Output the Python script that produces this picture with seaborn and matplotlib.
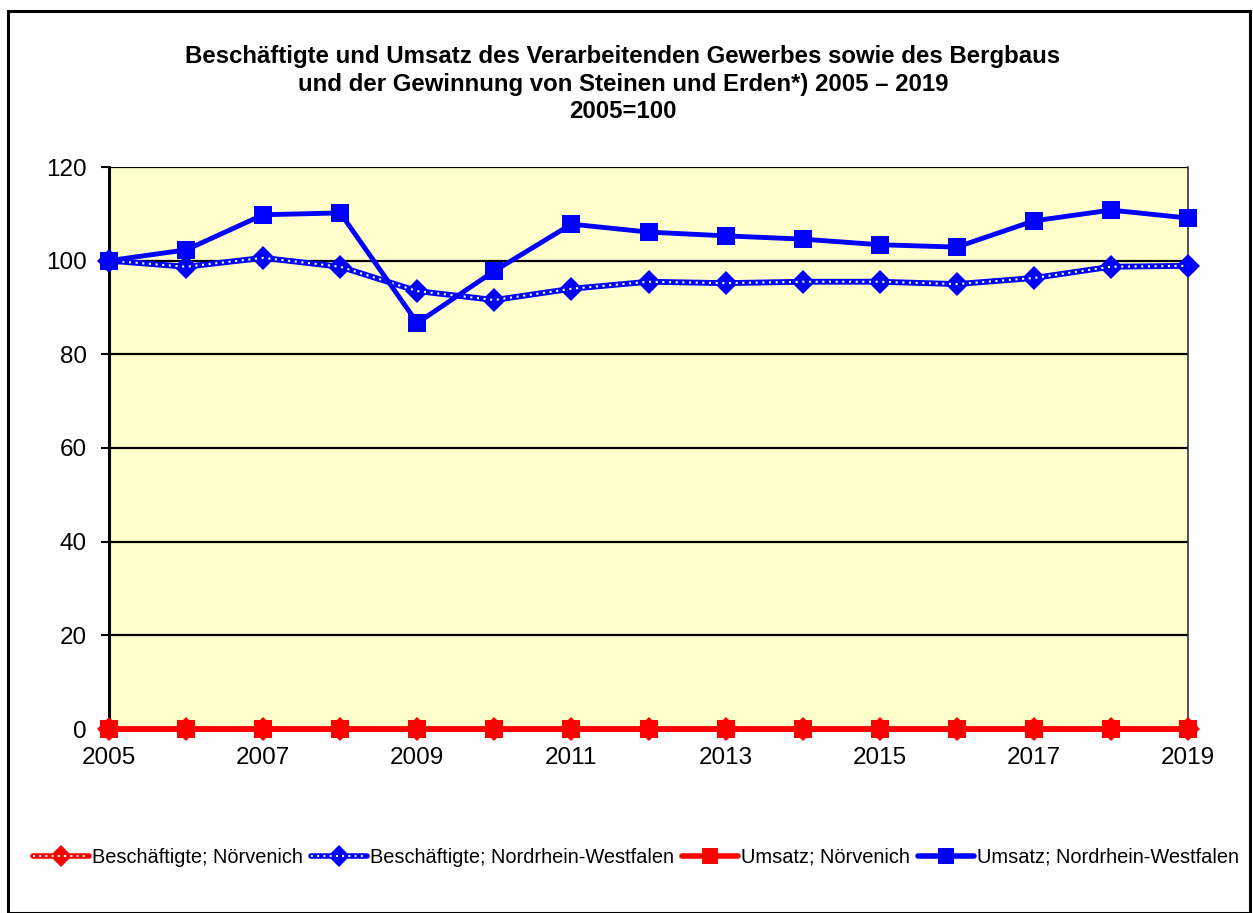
import matplotlib
matplotlib.use("Agg")
import matplotlib.pyplot as plt
import seaborn as sns
import pandas as pd
from matplotlib.lines import Line2D
from matplotlib.legend_handler import HandlerTuple
from matplotlib.patches import Rectangle

years = list(range(2005, 2020))
besch_noervenich = [0] * 15
besch_nrw = [100, 98.7, 100.6, 98.7, 93.5, 91.6, 94.0, 95.5, 95.2, 95.5, 95.5, 95.0, 96.3, 98.7, 98.9]
umsatz_noervenich = [0] * 15
umsatz_nrw = [100, 102.3, 109.8, 110.2, 86.7, 97.8, 107.8, 106.1, 105.3, 104.6, 103.4, 102.9, 108.5, 110.8, 109.1]

labels = ["Beschäftigte; Nörvenich", "Beschäftigte; Nordrhein-Westfalen",
          "Umsatz; Nörvenich", "Umsatz; Nordrhein-Westfalen"]
title_lines = ["Beschäftigte und Umsatz des Verarbeitenden Gewerbes sowie des Bergbaus",
               "und der Gewinnung von Steinen und Erden*) 2005 – 2019",
               "2005=100"]
xticks = [2005, 2007, 2009, 2011, 2013, 2015, 2017, 2019]
yticks = [0, 20, 40, 60, 80, 100, 120]

sns.set_style("white")
plt.rcParams['font.family'] = ['Liberation Sans', 'DejaVu Sans']
plt.rcParams['text.color'] = 'black'
plt.rcParams['xtick.color'] = 'black'
plt.rcParams['ytick.color'] = 'black'
plt.rcParams['xtick.labelcolor'] = 'black'
plt.rcParams['ytick.labelcolor'] = 'black'

df = pd.DataFrame({"Jahr": years, "bn": besch_noervenich, "bw": besch_nrw,
                   "un": umsatz_noervenich, "uw": umsatz_nrw})

fig = plt.figure(figsize=(12.53, 9.13), dpi=100)
ax = fig.add_axes([109/1253, 1-729/913, (1188-109)/1253, (729-167)/913])
ax.set_facecolor("#FFFFCC")

for y in yticks[1:]:
    ax.axhline(y, color="black", lw=1.6, zorder=1)

RED = "#FF0000"
BLUE = "#0000FF"

# Beschäftigte Nörvenich
sns.lineplot(data=df, x="Jahr", y="bn", ax=ax, color=RED, lw=4.2, marker="D",
             markersize=12, markeredgewidth=0, clip_on=False, zorder=3)
sns.lineplot(data=df, x="Jahr", y="bn", ax=ax, color="white", lw=1.5, linestyle=(0, (1, 2.2)),
             clip_on=False, zorder=3.1)
# Beschäftigte NRW
sns.lineplot(data=df, x="Jahr", y="bw", ax=ax, color=BLUE, lw=4.2, marker="D",
             markersize=12, markeredgewidth=0, clip_on=False, zorder=3)
sns.lineplot(data=df, x="Jahr", y="bw", ax=ax, color="white", lw=1.5, linestyle=(0, (1, 2.2)),
             clip_on=False, zorder=3.1)
# Umsatz Nörvenich
sns.lineplot(data=df, x="Jahr", y="un", ax=ax, color=RED, lw=3.5, marker="s",
             markersize=12.5, markeredgewidth=0, clip_on=False, zorder=4)
# Umsatz NRW
sns.lineplot(data=df, x="Jahr", y="uw", ax=ax, color=BLUE, lw=3.5, marker="s",
             markersize=13, markeredgewidth=0, clip_on=False, zorder=4)

ax.set_xlim(2005, 2019)
ax.set_ylim(0, 120)
ax.set_xticks(xticks)
ax.set_xticklabels([str(x) for x in xticks], fontsize=17.5)
ax.set_yticks(yticks)
ax.set_yticklabels([str(y) for y in yticks], fontsize=17.5)
ax.set_xlabel("")
ax.set_ylabel("")
ax.tick_params(axis="x", length=0, pad=13)
ax.tick_params(axis="y", length=6, width=1.5, direction="out", color="black", pad=10, left=True)
ax.spines["left"].set_color("black")
ax.spines["left"].set_linewidth(2.2)
ax.spines["right"].set_color("#333333")
ax.spines["right"].set_linewidth(1.2)
ax.spines["top"].set_visible(False)
ax.spines["bottom"].set_color("black")
ax.spines["bottom"].set_linewidth(1.6)
if ax.get_legend():
    ax.get_legend().remove()

# Title
for t, yp in zip(title_lines, [57, 84, 111]):
    fig.text(623/1253, 1 - yp/913, t, ha="center", va="center", fontsize=17.3,
             fontweight="bold", color="black")

# Legend
h1 = (Line2D([], [], color=RED, lw=4, marker="D", markersize=11, markeredgewidth=0),
      Line2D([], [], color="white", lw=1.4, linestyle=(0, (1, 2.2))))
h2 = (Line2D([], [], color=BLUE, lw=4, marker="D", markersize=11, markeredgewidth=0),
      Line2D([], [], color="white", lw=1.4, linestyle=(0, (1, 2.2))))
h3 = Line2D([], [], color=RED, lw=4, marker="s", markersize=11, markeredgewidth=0)
h4 = Line2D([], [], color=BLUE, lw=4, marker="s", markersize=11, markeredgewidth=0)
fig.legend([h1, h2, h3, h4], labels, loc="center", bbox_to_anchor=(636/1253, 1 - 857/913),
           ncol=4, frameon=False, fontsize=14.4, handlelength=2.8, handletextpad=0.15,
           columnspacing=0.4, borderpad=0, borderaxespad=0,
           handler_map={tuple: HandlerTuple(ndivide=1)})

# Outer border
fig.patches.append(Rectangle((8/1253, 0), (1250-8)/1253, 1 - 11/913, transform=fig.transFigure,
                             fill=False, edgecolor="black", lw=2.2))

fig.savefig("out.png", dpi=100)
